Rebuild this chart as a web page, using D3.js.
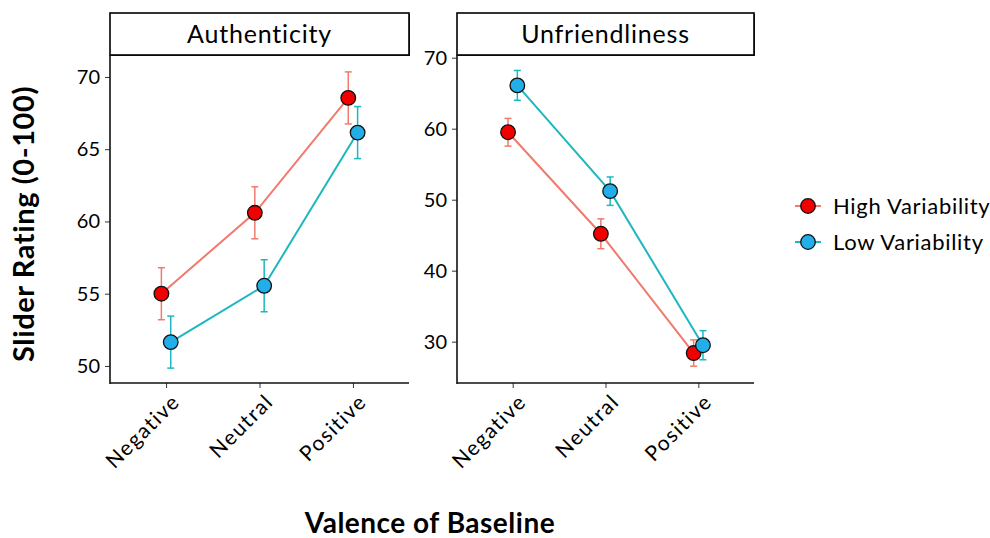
<!DOCTYPE html>
<html>
<head>
<meta charset="utf-8">
<script src="https://cdn.jsdelivr.net/npm/d3@7"></script>
<style>
  html, body { margin: 0; padding: 0; background: #fff; }
  svg { display: block; }
  text { font-family: "Lato", "Open Sans", sans-serif; fill: #000; }
</style>
</head>
<body>
<svg id="chart" width="990" height="538"></svg>
<script>
// ---- Data ----
const categories = ["Negative", "Neutral", "Positive"];
const seriesNames = ["High Variability", "Low Variability"];

const authHigh = [55.0, 60.6, 68.55];
const authHighSE = [1.8, 1.8, 1.8];
const authLow = [51.65, 55.55, 66.15];
const authLowSE = [1.8, 1.8, 1.8];
const authTicks = [50, 55, 60, 65, 70];

const unfrHigh = [59.5, 45.2, 28.4];
const unfrHighSE = [1.95, 2.1, 1.85];
const unfrLow = [66.1, 51.2, 29.5];
const unfrLowSE = [2.1, 2.0, 2.05];
const unfrTicks = [30, 40, 50, 60, 70];

const panelTitles = ["Authenticity", "Unfriendliness"];

// ---- Styles / layout ----
const lineColors = ["#F07A6E", "#1DB8BE"];
const fillColors = ["#F20000", "#22AEE8"];

const panels = [
  { title: panelTitles[0], x0: 110, x1: 409, domain: [48.82, 71.52], ticks: authTicks,
    series: [{ v: authHigh, se: authHighSE }, { v: authLow, se: authLowSE }] },
  { title: panelTitles[1], x0: 457, x1: 754, domain: [24.18, 70.38], ticks: unfrTicks,
    series: [{ v: unfrHigh, se: unfrHighSE }, { v: unfrLow, se: unfrLowSE }] }
];
const yTop = 55, yBot = 383, stripTop = 13;

const svg = d3.select("#chart");

panels.forEach(p => {
  const g = svg.append("g");
  const x = d3.scalePoint().domain(categories).range([p.x0, p.x1]).padding(0.6);
  const y = d3.scaleLinear().domain(p.domain).range([yBot, yTop]);
  const dodge = x.step() * 0.1;

  // strip
  g.append("rect")
    .attr("x", p.x0 + 1).attr("y", stripTop + 1)
    .attr("width", p.x1 - p.x0).attr("height", yTop - stripTop)
    .attr("fill", "#333");
  g.append("rect")
    .attr("x", p.x0).attr("y", stripTop)
    .attr("width", p.x1 - p.x0).attr("height", yTop - stripTop)
    .attr("fill", "#fff").attr("stroke", "#000").attr("stroke-width", 1.6);
  g.append("text")
    .attr("x", (p.x0 + p.x1) / 2).attr("y", (stripTop + yTop) / 2 + 9)
    .attr("text-anchor", "middle").attr("font-size", 25).attr("letter-spacing", 0.8)
    .text(p.title);

  // y axis
  const yAxis = d3.axisLeft(y).tickValues(p.ticks).tickSize(5).tickPadding(5).tickSizeOuter(0);
  const ya = g.append("g").attr("transform", `translate(${p.x0},0)`).call(yAxis);
  ya.select(".domain").remove();
  ya.selectAll(".tick line").attr("stroke", "#333").attr("stroke-width", 1);
  ya.selectAll(".tick text").attr("font-size", 20).attr("font-family", "Lato, sans-serif").attr("fill", "#000");
  g.append("line").attr("x1", p.x0).attr("x2", p.x0).attr("y1", yTop).attr("y2", yBot + 1)
    .attr("stroke", "#111").attr("stroke-width", 1.6);

  // x axis
  const xAxis = d3.axisBottom(x).tickSize(5).tickSizeOuter(0).tickFormat("");
  const xa = g.append("g").attr("transform", `translate(0,${yBot})`).call(xAxis);
  xa.select(".domain").remove();
  xa.selectAll(".tick line").attr("stroke", "#333").attr("stroke-width", 1);
  g.append("line").attr("x1", p.x0).attr("x2", p.x1).attr("y1", yBot).attr("y2", yBot)
    .attr("stroke", "#111").attr("stroke-width", 1.6);
  g.selectAll("text.xlab").data(categories).enter().append("text")
    .attr("class", "xlab")
    .attr("text-anchor", "end")
    .attr("font-size", 21).attr("letter-spacing", 1.5)
    .attr("transform", d => `translate(${x(d) + 15},${yBot + 20}) rotate(-45)`)
    .text(d => d);

  // series
  p.series.forEach((s, si) => {
    const off = si === 0 ? -dodge / 2 : dodge / 2;
    const pts = categories.map((c, i) => ({ x: x(c) + off, v: s.v[i], se: s.se[i] }));
    const line = d3.line().x(d => d.x).y(d => y(d.v));
    g.append("path").datum(pts).attr("d", line)
      .attr("fill", "none").attr("stroke", lineColors[si]).attr("stroke-width", 2);
    const eb = g.append("g").attr("stroke", lineColors[si]).attr("stroke-width", 1.5);
    pts.forEach(d => {
      eb.append("line").attr("x1", d.x).attr("x2", d.x).attr("y1", y(d.v + d.se)).attr("y2", y(d.v - d.se));
      eb.append("line").attr("x1", d.x - 3.5).attr("x2", d.x + 3.5).attr("y1", y(d.v + d.se)).attr("y2", y(d.v + d.se));
      eb.append("line").attr("x1", d.x - 3.5).attr("x2", d.x + 3.5).attr("y1", y(d.v - d.se)).attr("y2", y(d.v - d.se));
    });
    g.selectAll(null).data(pts).enter().append("circle")
      .attr("cx", d => d.x).attr("cy", d => y(d.v)).attr("r", 7.3)
      .attr("fill", fillColors[si]).attr("stroke", "#111").attr("stroke-width", 1.3);
  });
});

// axis titles
svg.append("text")
  .attr("transform", "translate(34,224) rotate(-90)")
  .attr("text-anchor", "middle").attr("font-size", 29).attr("font-weight", "bold")
  .attr("letter-spacing", 0.6)
  .text("Slider Rating (0-100)");
svg.append("text")
  .attr("x", 430).attr("y", 533)
  .attr("text-anchor", "middle").attr("font-size", 28).attr("font-weight", "bold")
  .attr("letter-spacing", 0.5)
  .text("Valence of Baseline");

// legend
const legend = svg.append("g");
seriesNames.forEach((n, i) => {
  const ly = 206 + i * 36;
  legend.append("line").attr("x1", 795).attr("x2", 821).attr("y1", ly).attr("y2", ly)
    .attr("stroke", lineColors[i]).attr("stroke-width", 2);
  legend.append("circle").attr("cx", 808).attr("cy", ly).attr("r", 7.3)
    .attr("fill", fillColors[i]).attr("stroke", "#111").attr("stroke-width", 1.3);
  legend.append("text").attr("x", 833).attr("y", ly + 8).attr("font-size", 22)
    .attr("letter-spacing", 0.7).text(n);
});
</script>
</body>
</html>
